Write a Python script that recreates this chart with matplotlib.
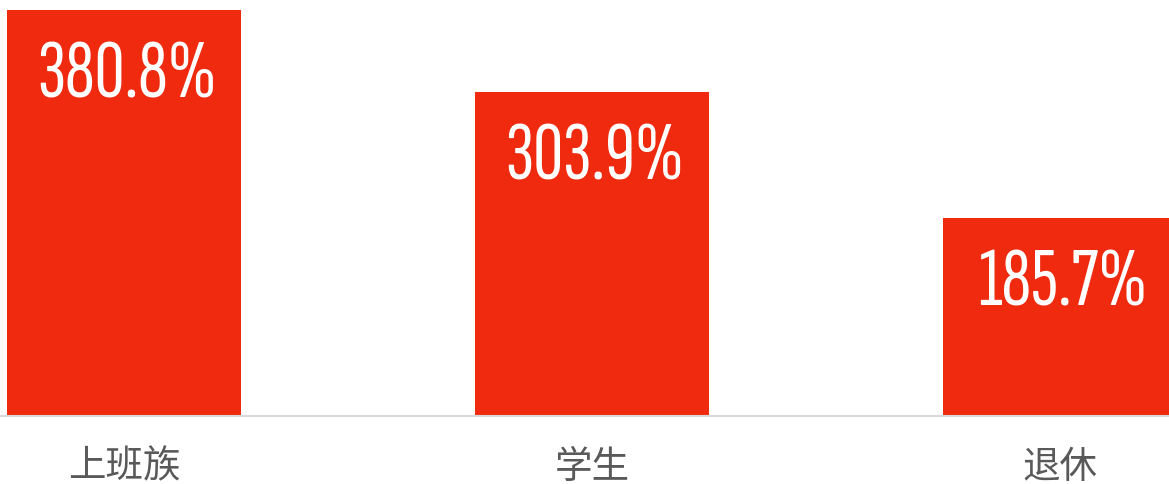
import matplotlib
matplotlib.use('Agg')
import matplotlib.pyplot as plt

# 数据
categories = ['上班族', '学生', '退休']
values = [380.8, 303.9, 185.7]
labels = ['380.8%', '303.9%', '185.7%']

bar_color = '#f02a0e'

plt.rcParams['font.family'] = ['Noto Sans CJK SC', 'DejaVu Sans']

fig = plt.figure(figsize=(11.69, 4.85), dpi=100)
ax = fig.add_axes([0, 68 / 485, 1, 417 / 485])

x = list(range(len(categories)))
ax.bar(x, values, width=0.5, color=bar_color, zorder=2)

# 柱内数值
for xi, v, lab in zip(x, values, labels):
    ax.annotate(lab, (xi, v), xytext=(2, -62.6), textcoords='offset points',
                ha='center', va='baseline', color='white', fontsize=60,
                family='Sofia Sans Extra Condensed', weight=600)

ax.set_xlim(-0.266, 2.234)
ax.set_ylim(0, 380.8 * 417 / 406)
ax.set_xticks(x)
ax.set_xticklabels(categories, fontsize=27, color='#595959')
ax.tick_params(axis='x', length=0, pad=22)
ax.set_yticks([])
for s in ['top', 'left', 'right']:
    ax.spines[s].set_visible(False)
ax.spines['bottom'].set_color('#d9d9d9')
ax.spines['bottom'].set_linewidth(1.5)

fig.savefig('out.png')
